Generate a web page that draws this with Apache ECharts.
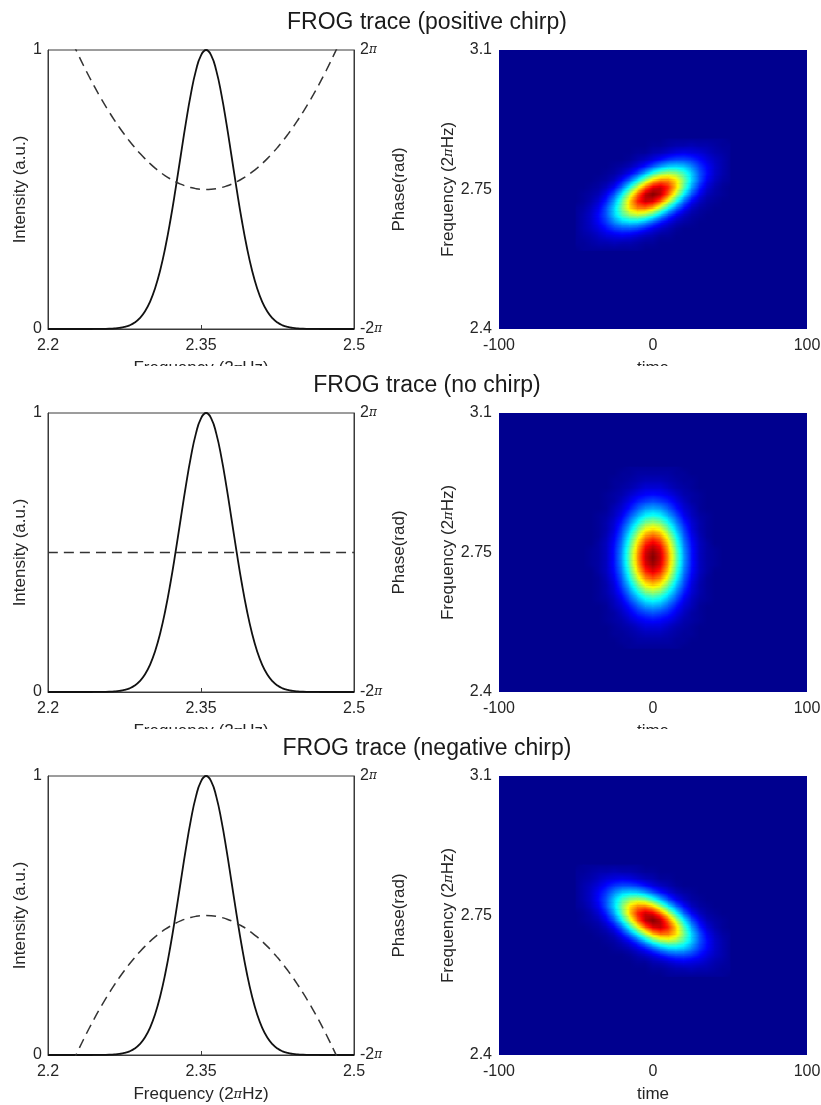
<!DOCTYPE html>
<html><head><meta charset="utf-8">
<script src="https://cdn.jsdelivr.net/npm/echarts@6/dist/echarts.min.js"></script>
<style>html,body{margin:0;padding:0;background:#fff}#chart{width:821px;height:1105px}</style>
</head><body><div id="chart"></div>
<script>
// ---------- data ----------
const panelTitles = ['FROG trace (positive chirp)', 'FROG trace (no chirp)', 'FROG trace (negative chirp)'];
const freqTicks = [2.2, 2.35, 2.5];
const timeTicks = [-100, 0, 100];
const traceFreqTicks = [2.4, 2.75, 3.1];

const freqAxis = [2.2,2.205,2.21,2.215,2.22,2.225,2.23,2.235,2.24,2.245,2.25,2.255,2.26,2.265,2.27,2.275,2.28,2.285,2.29,2.295,
  2.3,2.305,2.31,2.315,2.32,2.325,2.33,2.335,2.34,2.345,2.35,2.355,2.36,2.365,2.37,2.375,2.38,2.385,2.39,2.395,
  2.4,2.405,2.41,2.415,2.42,2.425,2.43,2.435,2.44,2.445,2.45,2.455,2.46,2.465,2.47,2.475,2.48,2.485,2.49,2.495,2.5];
const intensity = [0,0,0,0,0,0,0,0,0,0.0001,0.0002,0.0005,0.001,0.002,0.0039,0.0073,0.0132,0.0231,0.0388,0.0627,
  0.0976,0.1462,0.2106,0.2921,0.3897,0.5004,0.6183,0.7352,0.8411,0.926,0.981,1,0.981,0.926,0.8411,0.7352,0.6183,0.5004,0.3897,0.2921,
  0.2106,0.1462,0.0976,0.0627,0.0388,0.0231,0.0132,0.0073,0.0039,0.002,0.001,0.0005,0.0002,0.0001,0,0,0,0,0,0,0];
const phasePositive = [9.286,8.696,8.126,7.575,7.044,6.532,6.039,5.566,5.112,4.677,4.261,3.865,3.488,3.131,2.792,2.474,2.174,1.894,1.633,1.391,
  1.169,0.966,0.783,0.618,0.474,0.348,0.242,0.155,0.087,0.039,0.01,0,0.01,0.039,0.087,0.155,0.242,0.348,0.474,0.618,
  0.783,0.966,1.169,1.391,1.633,1.894,2.174,2.474,2.792,3.131,3.488,3.865,4.261,4.677,5.112,5.566,6.039,6.532,7.044,7.575,8.126];
const phaseNegative = [-9.286,-8.696,-8.126,-7.575,-7.044,-6.532,-6.039,-5.566,-5.112,-4.677,-4.261,-3.865,-3.488,-3.131,-2.792,-2.474,-2.174,-1.894,-1.633,-1.391,
  -1.169,-0.966,-0.783,-0.618,-0.474,-0.348,-0.242,-0.155,-0.087,-0.039,-0.01,0,-0.01,-0.039,-0.087,-0.155,-0.242,-0.348,-0.474,-0.618,
  -0.783,-0.966,-1.169,-1.391,-1.633,-1.894,-2.174,-2.474,-2.792,-3.131,-3.488,-3.865,-4.261,-4.677,-5.112,-5.566,-6.039,-6.532,-7.044,-7.575,-8.126];
const phaseFlatFreq = [2.2, 2.5];
const phaseFlat = [0, 0];

// FROG trace samples (intensity 0-100), columns = heatTimes, rows = frequencies (low -> high)
const heatTimes = [-50,-45,-40,-35,-30,-25,-20,-15,-10,-5,0,5,10,15,20,25,30,35,40,45,50];
const heatFreqsChirp = [2.597,2.6145,2.632,2.6495,2.667,2.6845,2.702,2.7195,2.737,2.7545,2.772,2.7895,2.807,2.8245,2.842,2.8595,2.877];
const heatFreqsFlat = [2.5095,2.527,2.5445,2.562,2.5795,2.597,2.6145,2.632,2.6495,2.667,2.6845,2.702,2.7195,2.737,
  2.7545,2.772,2.7895,2.807,2.8245,2.842,2.8595,2.877,2.8945,2.912,2.9295,2.947,2.9645];
const tracePositive = [
  [0,1,1,1,1,1,1,1,1,0,0,0,0,0,0,0,0,0,0,0,0],
  [1,1,2,3,3,4,3,3,2,1,1,0,0,0,0,0,0,0,0,0,0],
  [1,2,3,5,7,8,9,8,6,4,3,1,1,0,0,0,0,0,0,0,0],
  [1,3,5,8,12,16,18,18,16,12,8,5,3,1,0,0,0,0,0,0,0],
  [1,3,6,11,17,25,31,33,32,27,20,13,8,4,2,1,0,0,0,0,0],
  [1,3,6,12,20,32,43,51,54,50,41,29,18,10,5,2,1,0,0,0,0],
  [1,2,5,10,20,33,49,65,74,75,67,52,36,22,12,5,2,1,0,0,0],
  [0,1,3,7,15,28,46,67,84,93,90,77,58,39,22,11,5,2,1,0,0],
  [0,1,2,4,10,20,36,56,77,94,100,94,77,56,36,20,10,4,2,1,0],
  [0,0,1,2,5,11,22,39,58,77,90,93,84,67,46,28,15,7,3,1,0],
  [0,0,0,1,2,5,12,22,36,52,67,75,74,65,49,33,20,10,5,2,1],
  [0,0,0,0,1,2,5,10,18,29,41,50,54,51,43,32,20,12,6,3,1],
  [0,0,0,0,0,1,2,4,8,13,20,27,32,33,31,25,17,11,6,3,1],
  [0,0,0,0,0,0,0,1,3,5,8,12,16,18,18,16,12,8,5,3,1],
  [0,0,0,0,0,0,0,0,1,1,3,4,6,8,9,8,7,5,3,2,1],
  [0,0,0,0,0,0,0,0,0,0,1,1,2,3,3,4,3,3,2,1,1],
  [0,0,0,0,0,0,0,0,0,0,0,0,1,1,1,1,1,1,1,1,0]
];
const traceFlat = [
  [0,0,0,0,0,0,0,1,1,1,1,1,1,1,0,0,0,0,0,0,0],
  [0,0,0,0,0,0,1,1,2,2,2,2,2,1,1,0,0,0,0,0,0],
  [0,0,0,0,0,1,1,2,3,4,4,4,3,2,1,1,0,0,0,0,0],
  [0,0,0,0,0,1,2,3,5,7,7,7,5,3,2,1,0,0,0,0,0],
  [0,0,0,0,1,2,3,6,9,11,12,11,9,6,3,2,1,0,0,0,0],
  [0,0,0,0,1,2,5,9,14,17,19,17,14,9,5,2,1,0,0,0,0],
  [0,0,0,0,1,4,7,13,20,26,28,26,20,13,7,4,1,0,0,0,0],
  [0,0,0,1,2,5,10,19,28,36,39,36,28,19,10,5,2,1,0,0,0],
  [0,0,0,1,3,7,14,25,37,48,52,48,37,25,14,7,3,1,0,0,0],
  [0,0,0,1,3,8,18,31,47,61,66,61,47,31,18,8,3,1,0,0,0],
  [0,0,0,1,4,10,21,38,57,73,79,73,57,38,21,10,4,1,0,0,0],
  [0,0,0,2,5,12,24,43,65,83,90,83,65,43,24,12,5,2,0,0,0],
  [0,0,1,2,5,13,26,47,70,90,97,90,70,47,26,13,5,2,1,0,0],
  [0,0,1,2,5,13,27,48,72,92,100,92,72,48,27,13,5,2,1,0,0],
  [0,0,1,2,5,13,26,47,70,90,97,90,70,47,26,13,5,2,1,0,0],
  [0,0,0,2,5,12,24,43,65,83,90,83,65,43,24,12,5,2,0,0,0],
  [0,0,0,1,4,10,21,38,57,73,79,73,57,38,21,10,4,1,0,0,0],
  [0,0,0,1,3,8,18,31,47,61,66,61,47,31,18,8,3,1,0,0,0],
  [0,0,0,1,3,7,14,25,37,48,52,48,37,25,14,7,3,1,0,0,0],
  [0,0,0,1,2,5,10,19,28,36,39,36,28,19,10,5,2,1,0,0,0],
  [0,0,0,0,1,4,7,13,20,26,28,26,20,13,7,4,1,0,0,0,0],
  [0,0,0,0,1,2,5,9,14,17,19,17,14,9,5,2,1,0,0,0,0],
  [0,0,0,0,1,2,3,6,9,11,12,11,9,6,3,2,1,0,0,0,0],
  [0,0,0,0,0,1,2,3,5,7,7,7,5,3,2,1,0,0,0,0,0],
  [0,0,0,0,0,1,1,2,3,4,4,4,3,2,1,1,0,0,0,0,0],
  [0,0,0,0,0,0,1,1,2,2,2,2,2,1,1,0,0,0,0,0,0],
  [0,0,0,0,0,0,0,1,1,1,1,1,1,1,0,0,0,0,0,0,0]
];
const traceNegative = [
  [0,0,0,0,0,0,0,0,0,0,0,0,1,1,1,1,1,1,1,1,0],
  [0,0,0,0,0,0,0,0,0,0,1,1,2,3,3,4,3,3,2,1,1],
  [0,0,0,0,0,0,0,0,1,1,3,4,6,8,9,8,7,5,3,2,1],
  [0,0,0,0,0,0,0,1,3,5,8,12,16,18,18,16,12,8,5,3,1],
  [0,0,0,0,0,1,2,4,8,13,20,27,32,33,31,25,17,11,6,3,1],
  [0,0,0,0,1,2,5,10,18,29,41,50,54,51,43,32,20,12,6,3,1],
  [0,0,0,1,2,5,12,22,36,52,67,75,74,65,49,33,20,10,5,2,1],
  [0,0,1,2,5,11,22,39,58,77,90,93,84,67,46,28,15,7,3,1,0],
  [0,1,2,4,10,20,36,56,77,94,100,94,77,56,36,20,10,4,2,1,0],
  [0,1,3,7,15,28,46,67,84,93,90,77,58,39,22,11,5,2,1,0,0],
  [1,2,5,10,20,33,49,65,74,75,67,52,36,22,12,5,2,1,0,0,0],
  [1,3,6,12,20,32,43,51,54,50,41,29,18,10,5,2,1,0,0,0,0],
  [1,3,6,11,17,25,31,33,32,27,20,13,8,4,2,1,0,0,0,0,0],
  [1,3,5,8,12,16,18,18,16,12,8,5,3,1,0,0,0,0,0,0,0],
  [1,2,3,5,7,8,9,8,6,4,3,1,1,0,0,0,0,0,0,0,0],
  [1,1,2,3,3,4,3,3,2,1,1,0,0,0,0,0,0,0,0,0,0],
  [0,1,1,1,1,1,1,1,1,0,0,0,0,0,0,0,0,0,0,0,0]
];

// ---------- presentation ----------
const FONT = "'Liberation Sans', Arial, Helvetica, sans-serif";
const TXT = '#262626';
const AX = '#3a3a3a';
function jet(x) {
  x = Math.max(0, Math.min(1, x));
  const u = (1 + 63 * x) / 64;
  const c = v => Math.max(0, Math.min(1, v));
  const r = c(1.5 - Math.abs(4 * u - 3)), g = c(1.5 - Math.abs(4 * u - 2)), b = c(1.5 - Math.abs(4 * u - 1));
  return 'rgb(' + Math.round(r * 255) + ',' + Math.round(g * 255) + ',' + Math.round(b * 255) + ')';
}
const jetColors = [];
for (let k = 0; k <= 64; k++) jetColors.push(jet(k / 64));

const panels = [
  { phase: freqAxis.map((f, i) => [f, phasePositive[i]]), trace: tracePositive, freqs: heatFreqsChirp },
  { phase: phaseFlatFreq.map((f, i) => [f, phaseFlat[i]]), trace: traceFlat, freqs: heatFreqsFlat },
  { phase: freqAxis.map((f, i) => [f, phaseNegative[i]]), trace: traceNegative, freqs: heatFreqsChirp }
];
const plotTops = [50, 413, 776];
const PH = 279;
const intensityPts = freqAxis.map((f, i) => [f, intensity[i]]);

const piRich = { p: { fontSize: 12, fontFamily: 'DejaVu Serif, serif', fontStyle: 'italic', color: TXT } };
const piRichName = { p: { fontSize: 13, fontFamily: 'DejaVu Serif, serif', fontStyle: 'italic', color: TXT } };

// interpolated shading between neighbouring samples (like MATLAB "shading interp")
function makeRenderItem(pn) {
  const g = pn.trace, nR = g.length, nC = g[0].length;
  return function (params, api) {
    const r = api.value(3), c = api.value(4);
    if (r + 1 >= nR || c + 1 >= nC) return { type: 'group', children: [] };
    const v00 = g[r][c], v01 = g[r][c + 1], v10 = g[r + 1][c], v11 = g[r + 1][c + 1];
    if (v00 + v01 + v10 + v11 === 0) return { type: 'group', children: [] };
    const p0 = api.coord([heatTimes[c], pn.freqs[r + 1]]);
    const p1 = api.coord([heatTimes[c + 1], pn.freqs[r]]);
    const w = p1[0] - p0[0], h = p1[1] - p0[1];
    const N = 5, M = 4, children = [];
    for (let k = 0; k < N; k++) {
      const s = (k + 0.5) / N;
      const L = v10 * (1 - s) + v00 * s, R = v11 * (1 - s) + v01 * s;
      const stops = [];
      for (let j = 0; j <= M; j++) stops.push({ offset: j / M, color: jet((L + (R - L) * j / M) / 100) });
      children.push({ type: 'rect',
        shape: { x: p0[0] - 0.3, y: p0[1] + h * k / N - 0.3, width: w + 0.6, height: h / N + 0.6 },
        style: { fill: { type: 'linear', x: 0, y: 0, x2: 1, y2: 0, colorStops: stops } } });
    }
    return { type: 'group', children: children };
  };
}

const grids = [], xAxes = [], yAxes = [], series = [], graphics = [], customIdx = [];
panels.forEach((pn, p) => {
  const top = plotTops[p];
  grids.push({ left: 48, top: top, width: 306, height: PH, show: true, backgroundColor: '#fff',
    borderColor: AX, borderWidth: 1, outerBoundsMode: 'none' });
  grids.push({ left: 499, top: top, width: 308, height: PH, show: true, backgroundColor: jetColors[0],
    borderWidth: 0, outerBoundsMode: 'none' });
  const nameStyle = { fontSize: 17, color: TXT, fontFamily: FONT, rich: piRichName };
  xAxes.push({ gridIndex: 2 * p, type: 'value', min: 2.2, max: 2.5,
    axisLine: { show: true, lineStyle: { color: AX, width: 1 } },
    axisTick: { show: true, inside: true, length: 4, customValues: freqTicks, lineStyle: { color: AX } },
    axisLabel: { customValues: freqTicks, margin: 9, fontSize: 16, color: TXT, fontFamily: FONT, formatter: v => String(v) },
    splitLine: { show: false },
    name: 'Frequency (2{p|π}Hz)', nameLocation: 'middle', nameGap: 31, nameTextStyle: nameStyle });
  xAxes.push({ gridIndex: 2 * p + 1, type: 'value', min: -100, max: 100,
    axisLine: { show: false }, axisTick: { show: false },
    axisLabel: { customValues: timeTicks, margin: 9, fontSize: 16, color: TXT, fontFamily: FONT, formatter: v => String(v) },
    splitLine: { show: false },
    name: 'time', nameLocation: 'middle', nameGap: 31, nameTextStyle: nameStyle });
  yAxes.push({ gridIndex: 2 * p, type: 'value', min: 0, max: 1, interval: 1,
    axisLine: { show: true, lineStyle: { color: AX } }, axisTick: { show: false },
    axisLabel: { margin: 6, fontSize: 16, color: TXT, fontFamily: FONT },
    splitLine: { show: false },
    name: 'Intensity (a.u.)', nameLocation: 'middle', nameGap: 15, nameTextStyle: nameStyle });
  yAxes.push({ gridIndex: 2 * p, type: 'value', position: 'right', min: -2 * Math.PI, max: 2 * Math.PI, interval: 4 * Math.PI,
    axisLine: { show: true, lineStyle: { color: AX } }, axisTick: { show: false },
    axisLabel: { margin: 6, fontSize: 16, color: TXT, fontFamily: FONT, rich: piRich,
      formatter: v => Math.round(v / Math.PI) + '{p|π}' },
    splitLine: { show: false },
    name: 'Phase(rad)', nameLocation: 'middle', nameGap: 37, nameTextStyle: nameStyle });
  yAxes.push({ gridIndex: 2 * p + 1, type: 'value', min: 2.4, max: 3.1,
    axisLine: { show: false }, axisTick: { show: false },
    axisLabel: { customValues: traceFreqTicks, margin: 7, fontSize: 16, color: TXT, fontFamily: FONT, formatter: v => String(v) },
    splitLine: { show: false },
    name: 'Frequency (2{p|π}Hz)', nameLocation: 'middle', nameGap: 35, nameTextStyle: nameStyle });

  series.push({ type: 'line', xAxisIndex: 2 * p, yAxisIndex: 3 * p, data: intensityPts, smooth: true,
    symbol: 'none', lineStyle: { color: '#111', width: 1.8 }, z: 3 });
  series.push({ type: 'line', xAxisIndex: 2 * p, yAxisIndex: 3 * p + 1, data: pn.phase, smooth: true,
    symbol: 'none', lineStyle: { color: '#333', width: 1.5, type: [10, 6] }, z: 3 });

  const cells = [];
  pn.trace.forEach((row, r) => row.forEach((v, c) => cells.push([heatTimes[c], pn.freqs[r], v, r, c])));
  customIdx.push(series.length);
  series.push({ type: 'custom', xAxisIndex: 2 * p + 1, yAxisIndex: 3 * p + 2, data: cells,
    dimensions: ['time', 'freq', 'value', 'row', 'col'], encode: { x: 0, y: 1 },
    renderItem: makeRenderItem(pn) });

  graphics.push({ type: 'text', x: 427, y: top - 27, z: 10,
    style: { text: panelTitles[p], fontSize: 23, fontFamily: FONT, fill: '#1a1a1a', align: 'center', verticalAlign: 'middle' } });
  if (p < 2) {
    graphics.push({ type: 'rect', shape: { x: 0, y: top + PH + 37, width: 821, height: 26 }, z: 5,
      style: { fill: '#fff' } });
  }
});

const chart = echarts.init(document.getElementById('chart'), null, { renderer: 'canvas' });
chart.setOption({
  animation: false,
  backgroundColor: '#fff',
  grid: grids, xAxis: xAxes, yAxis: yAxes, series: series,
  visualMap: [{ type: 'continuous', show: false, min: 0, max: 100, dimension: 2, seriesIndex: customIdx,
    inRange: { color: jetColors } }],
  graphic: { elements: graphics }
});
</script></body></html>
